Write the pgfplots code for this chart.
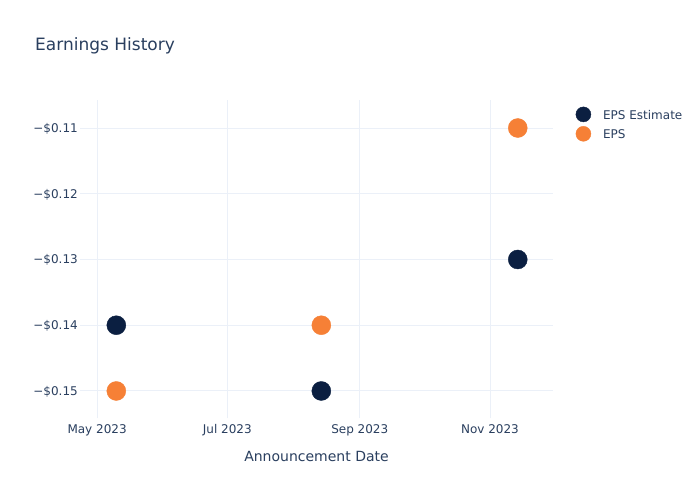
\documentclass[border=0pt]{standalone}
\usepackage{fontspec}
\setmainfont{DejaVu Sans}
\usepackage{pgfplots}
\pgfplotsset{compat=1.18}
\definecolor{txt}{HTML}{2A3F5F}
\definecolor{grd}{HTML}{EBF0F8}
\definecolor{navy}{HTML}{0B1F41}
\definecolor{org}{HTML}{F68036}
\begin{document}
\begin{tikzpicture}[x=1pt,y=1pt]
\fill[white] (0,0) rectangle (700,500);
\node[anchor=base west, text=txt, font=\fontsize{17}{20}\selectfont, inner sep=0] at (35,449) {Earnings History};
\begin{axis}[
  at={(80pt,82pt)}, anchor=south west, scale only axis,
  width=473pt, height=318pt,
  xmin=-8, xmax=213.5, ymin=-0.15411, ymax=-0.10574,
  axis line style={draw=none},
  major tick length=0pt,
  grid=major, major grid style={grd, line width=1pt},
  xtick={0,61,123,184},
  xticklabels={May 2023, Jul 2023, Sep 2023, Nov 2023},
  ytick={-0.15,-0.14,-0.13,-0.12,-0.11},
  yticklabels={−\$0.15,−\$0.14,−\$0.13,−\$0.12,−\$0.11},
  tick label style={text=txt, font=\fontsize{12}{14}\selectfont, inner sep=0pt},
  xticklabel style={anchor=base, yshift=-15.5pt},
  yticklabel style={anchor=base east, xshift=-2pt, yshift=-4.4pt},
  xlabel={Announcement Date},
  xlabel style={at={(axis description cs:0.5,0)}, anchor=center, yshift=-38pt, text=txt, font=\fontsize{14}{17}\selectfont},
  clip=false,
  legend image code/.code={\fill[#1] (0pt,1.4pt) circle (7.5pt);},
  legend cell align=left,
  legend style={at={(axis description cs:1,1)}, anchor=north west, xshift=22.5pt, yshift=-6.5pt,
    draw=none, fill=none, inner sep=0pt, column sep=12pt, row sep=4pt,
    nodes={inner sep=0pt, text=txt}, font=\fontsize{12}{14}\selectfont},
]
\addplot[only marks, mark=*, mark size=9.5pt, color=navy, mark options={draw=none, fill=navy}]
  coordinates {(9,-0.14) (105,-0.15) (197,-0.13)};
\addlegendentry{EPS Estimate}
\addplot[only marks, mark=*, mark size=9.5pt, color=org, mark options={draw=none, fill=org}]
  coordinates {(9,-0.15) (105,-0.14) (197,-0.11)};
\addlegendentry{EPS}
\end{axis}
\end{tikzpicture}
\end{document}
